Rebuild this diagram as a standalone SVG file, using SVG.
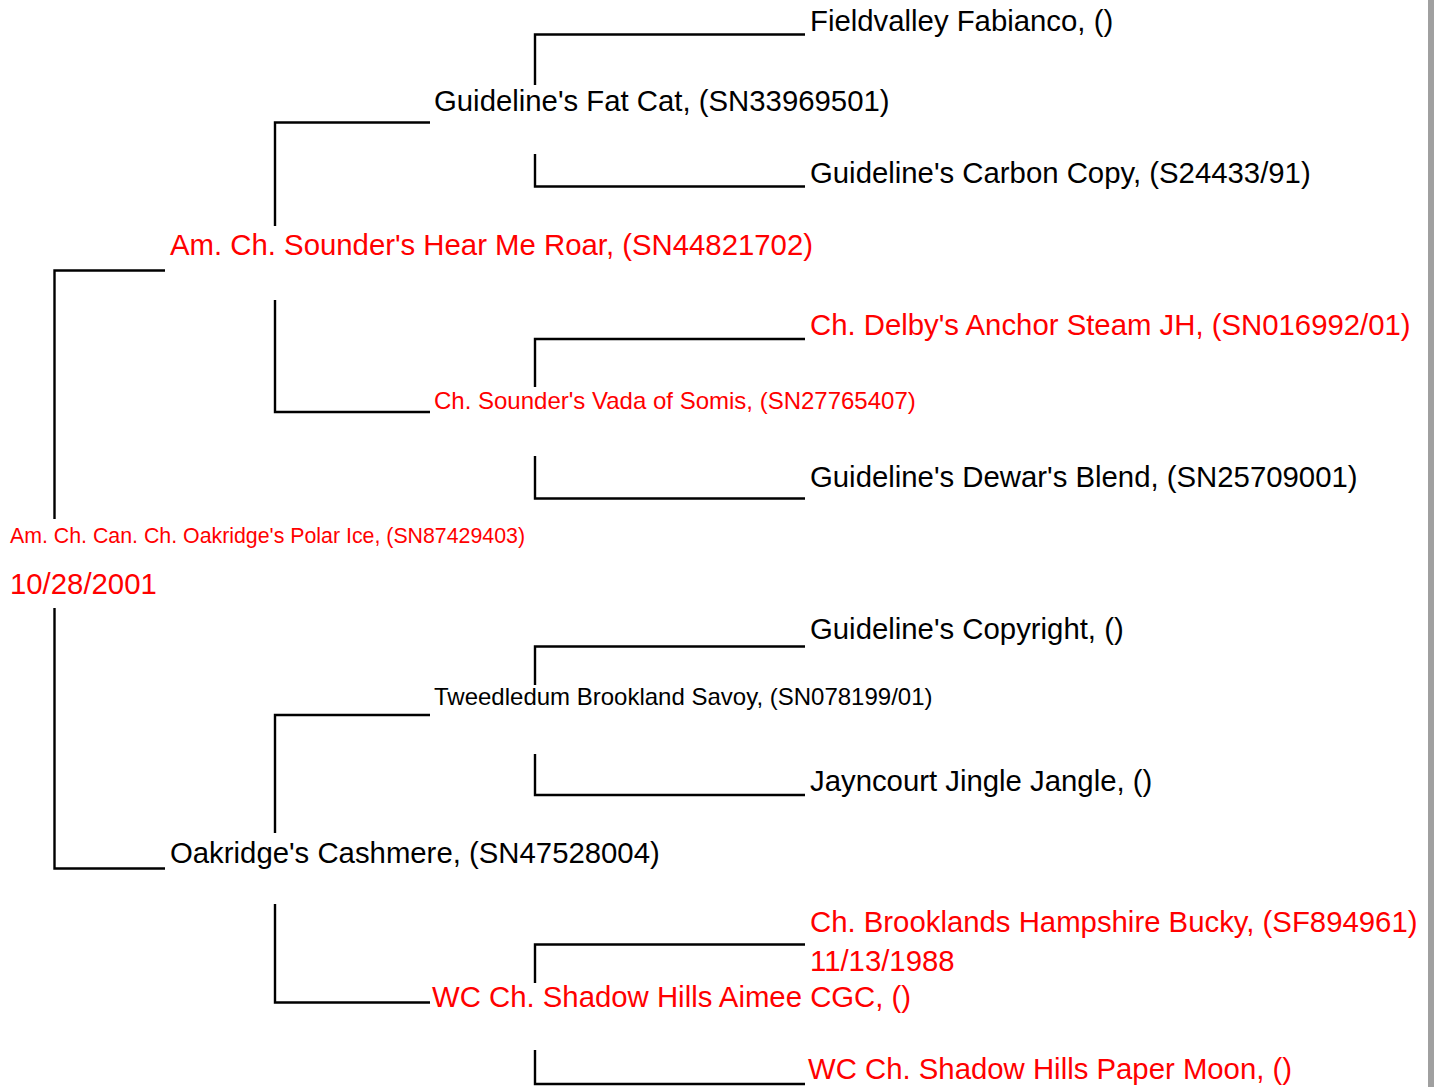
<svg xmlns="http://www.w3.org/2000/svg" width="1434" height="1087" viewBox="0 0 1434 1087">
<style>
text{font-family:"Liberation Sans",Arial,sans-serif;}
.l{font-size:29.33px;}
.m{font-size:24px;}
.s{font-size:21.33px;}
.r{fill:#ff0000;}
.k{fill:#000000;}
.c{fill:none;stroke:#000;stroke-width:2.4;}
</style>
<rect x="0" y="0" width="1434" height="1087" fill="#ffffff"/>
<rect x="1428" y="0" width="6" height="1087" fill="#a0a0a0"/>
<g id="connectors" class="c">
<polyline points="165,270.5 54.5,270.5 54.5,519"/>
<polyline points="54.5,608 54.5,868.5 165,868.5"/>
<polyline points="430,122.5 275,122.5 275,226"/>
<polyline points="275,300 275,412 430,412"/>
<polyline points="805,34.5 535,34.5 535,85"/>
<polyline points="535,154 535,186.5 805,186.5"/>
<polyline points="805,339 535,339 535,387"/>
<polyline points="535,456 535,498.5 805,498.5"/>
<polyline points="430,715 275,715 275,833"/>
<polyline points="275,904 275,1002.5 430,1002.5"/>
<polyline points="805,646.5 535,646.5 535,685"/>
<polyline points="535,754 535,795 805,795"/>
<polyline points="805,944.5 535,944.5 535,983"/>
<polyline points="535,1050 535,1084 805,1084"/>
</g>
<g id="n-polar-ice"><text class="s r" x="10" y="543">Am. Ch. Can. Ch. Oakridge's Polar Ice, (SN87429403)</text><text class="l r" x="10" y="594">10/28/2001</text></g>
<g id="n-hear-me-roar"><text class="l r" x="170" y="255">Am. Ch. Sounder's Hear Me Roar, (SN44821702)</text></g>
<g id="n-cashmere"><text class="l k" x="170" y="863">Oakridge's Cashmere, (SN47528004)</text></g>
<g id="n-fat-cat"><text class="l k" x="434" y="111">Guideline's Fat Cat, (SN33969501)</text></g>
<g id="n-vada"><text class="m r" x="434" y="409">Ch. Sounder's Vada of Somis, (SN27765407)</text></g>
<g id="n-tweedledum"><text class="m k" x="434" y="705">Tweedledum Brookland Savoy, (SN078199/01)</text></g>
<g id="n-aimee"><text class="l r" x="432" y="1007">WC Ch. Shadow Hills Aimee CGC, ()</text></g>
<g id="n-fieldvalley"><text class="l k" x="810" y="31">Fieldvalley Fabianco, ()</text></g>
<g id="n-carbon-copy"><text class="l k" x="810" y="183">Guideline's Carbon Copy, (S24433/91)</text></g>
<g id="n-delby"><text class="l r" x="810" y="335">Ch. Delby's Anchor Steam JH, (SN016992/01)</text></g>
<g id="n-dewars"><text class="l k" x="810" y="487">Guideline's Dewar's Blend, (SN25709001)</text></g>
<g id="n-copyright"><text class="l k" x="810" y="639">Guideline's Copyright, ()</text></g>
<g id="n-jayncourt"><text class="l k" x="810" y="791">Jayncourt Jingle Jangle, ()</text></g>
<g id="n-bucky"><text class="l r" x="810" y="932">Ch. Brooklands Hampshire Bucky, (SF894961)</text><text class="l r" x="810" y="971">11/13/1988</text></g>
<g id="n-paper-moon"><text class="l r" x="808" y="1079">WC Ch. Shadow Hills Paper Moon, ()</text></g>
</svg>
